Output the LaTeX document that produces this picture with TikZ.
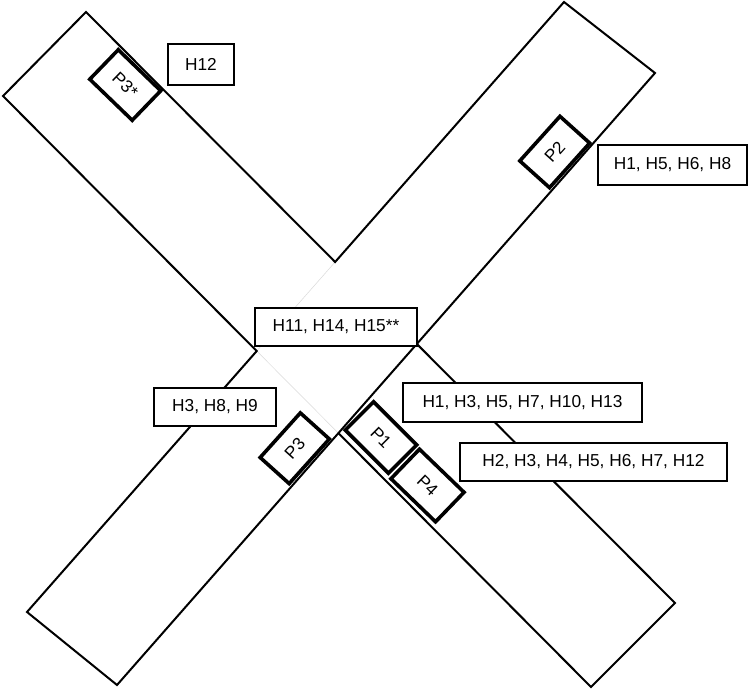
\documentclass[tikz,border=0pt]{standalone}
\usepackage{fontspec}
\setmainfont{Liberation Sans}
\begin{document}
\begin{tikzpicture}[x=1pt,y=-1pt,
  band/.style={line width=2pt},
  faint/.style={line width=0.5pt, black!15},
  lbl/.style={font=\fontsize{17.3}{20}\selectfont},
  pbox/.style={lbl, draw, line width=3.6pt, fill=white, inner sep=0pt},
  hbox/.style={lbl, draw, line width=2.8pt, fill=white, inner sep=0pt}]
\useasboundingbox (0,0) rectangle (750,690);
% band A (NW-SE) and band B (SW-NE)
\coordinate (At) at (86,12);
\coordinate (Ar) at (675,603);
\coordinate (Ab) at (591,687);
\coordinate (Al) at (3,96);
\coordinate (Bt) at (564,2);
\coordinate (Br) at (655,73);
\coordinate (Bb) at (117,685);
\coordinate (Bl) at (27,612);
\coordinate (X1) at (intersection of At--Ar and Bl--Bt);
\coordinate (X2) at (intersection of Al--Ab and Bl--Bt);
\coordinate (X3) at (intersection of At--Ar and Bb--Br);
\coordinate (X4) at (intersection of Al--Ab and Bb--Br);
\draw[faint] (X1) -- (X2) -- (X4);
\draw[band] (X1) -- (At) -- (Al) -- (X2) -- (Bl) -- (Bb) -- (Br) -- (Bt) -- cycle;
\draw[band] (X3) -- (Ar) -- (Ab) -- (X4);
% position boxes
\node[pbox, rotate=-44, minimum width=59, minimum height=41] (p3s) at (125.25,85) {P3*};
\node[pbox, rotate=48, minimum width=60, minimum height=40] (p2) at (554.75,152) {P2};
\node[pbox, rotate=48, minimum width=60, minimum height=39] (p3) at (294.75,448.25) {P3};
\node[pbox, rotate=-45, minimum width=61, minimum height=40] (p1) at (381,437.5) {P1};
\node[pbox, rotate=-44, minimum width=62, minimum height=41] (p4) at (427.5,485.5) {P4};
% hypothesis labels
\node[hbox, minimum width=66, minimum height=41] (h12) at (201,64.5) {H12};
\node[hbox, minimum width=149, minimum height=40] (hp2) at (672.5,165) {H1, H5, H6, H8};
\node[hbox, minimum width=162, minimum height=38] (hc) at (336,327) {H11, H14, H15**};
\node[hbox, minimum width=122, minimum height=38] (hp3) at (215,407) {H3, H8, H9};
\node[hbox, minimum width=239, minimum height=39] (hp1) at (522.5,402.5) {H1, H3, H5, H7, H10, H13};
\node[hbox, minimum width=267, minimum height=38] (hp4) at (593.5,462) {H2, H3, H4, H5, H6, H7, H12};
\end{tikzpicture}
\end{document}
